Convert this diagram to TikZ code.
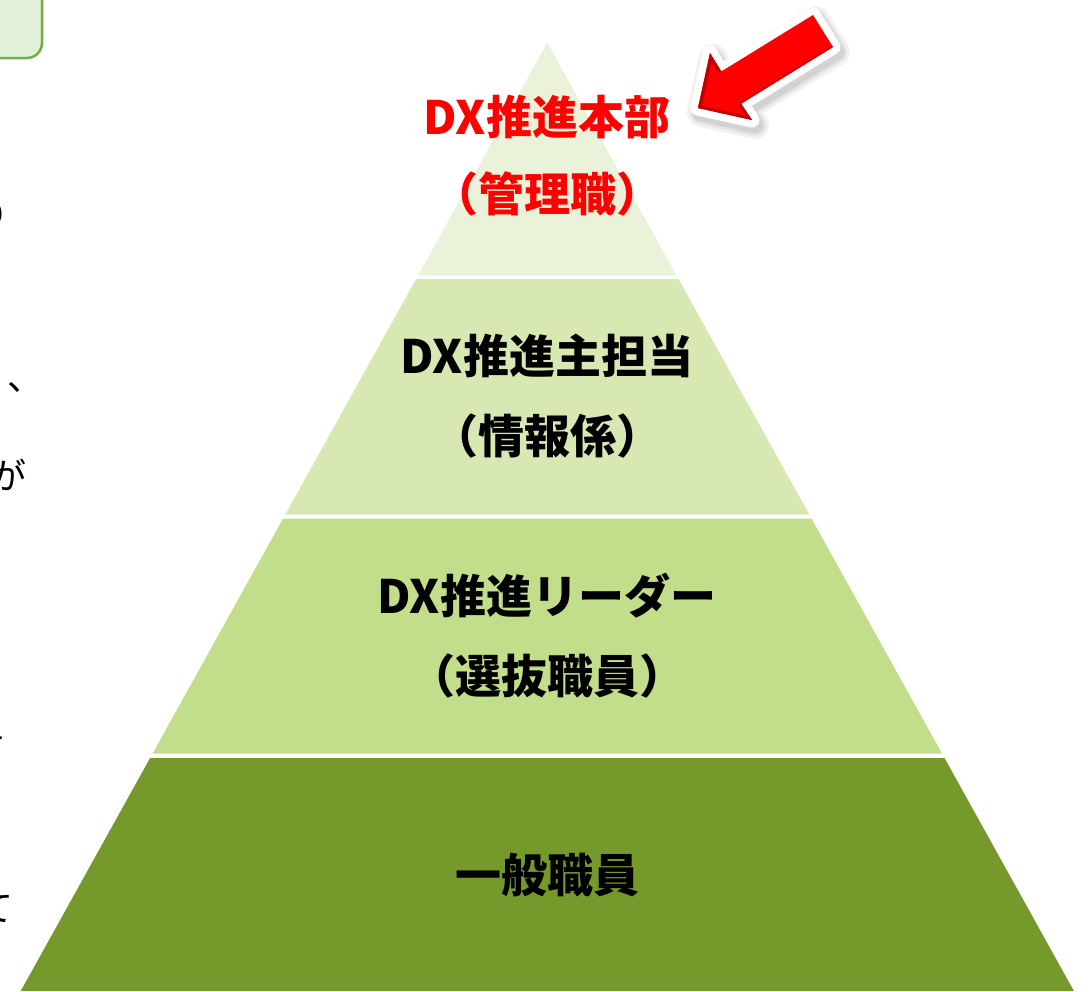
\documentclass[tikz,border=0pt]{standalone}
\usepackage{fontspec}
\newfontfamily\jp{Noto Sans CJK JP}
\definecolor{bandA}{HTML}{EAF3D9}
\definecolor{bandB}{HTML}{D8E8B3}
\definecolor{bandC}{HTML}{C3DE8B}
\definecolor{bandD}{HTML}{76992C}
\definecolor{boxfill}{HTML}{E2F0D9}
\definecolor{boxline}{HTML}{70AD47}
\definecolor{arrred}{HTML}{FF0000}
\definecolor{arrdark}{HTML}{C00000}
\tikzset{
  lbl/.style={font=\jp\bfseries\fontsize{46}{46}\selectfont, inner sep=0pt, text height=34pt, text depth=0pt},
  frag/.style={font=\jp\fontsize{36}{36}\selectfont, inner sep=0pt, text height=27pt, text depth=0pt},
}
\begin{document}
\begin{tikzpicture}[x=1pt,y=-1pt]
\useasboundingbox (0,0) rectangle (1091,991);
\clip (0,0) rectangle (1091,991);
% top-left box (partly outside)
\draw[fill=boxfill, draw=boxline, line width=2.5pt, rounded corners=15pt] (-30,-30) rectangle (42,58);
% left text fragments (cut off at the edge, as in the reference)
\node[frag, anchor=east] (f1) at (10,215) {り};
\node[frag, anchor=west] (f2) at (7,377) {、};
\node[frag, anchor=east] (f3) at (27,476) {が};
\node[frag, anchor=east] (f4) at (8,742) {き};
\node[frag, anchor=east] (f5) at (14,908) {て};
% pyramid bands
\fill[bandA] (547.3,42.7) -- (676.6,275.5) -- (418.0,275.5) -- cycle;
\fill[bandB] (416.1,279) -- (678.5,279) -- (809.3,514.5) -- (285.3,514.5) -- cycle;
\fill[bandC] (283.1,518.5) -- (811.5,518.5) -- (942.0,753.5) -- (152.6,753.5) -- cycle;
\fill[bandD] (150.1,758) -- (944.5,758) -- (1073.9,991) -- (20.7,991) -- cycle;
% labels
\node[lbl, text=arrred] (t1) at (547,117) {DX推進本部};
\node[lbl, text=arrred] (t2) at (547,194) {（管理職）};
\node[lbl] (b1) at (547,356) {DX推進主担当};
\node[lbl] (b2) at (547,436) {（情報係）};
\node[lbl] (c1) at (547,596) {DX推進リーダー};
\node[lbl] (c2) at (547,676) {（選抜職員）};
\node[lbl] (d1) at (547,875) {一般職員};
% arrow
\def\arrowpath{(698,108) -- (710,53) -- (721.3,71.5) -- (813,15) -- (833,47) -- (741.1,103.7) -- (752,120) -- cycle}
\begin{scope}[shift={(3,5)}]
\draw[black, opacity=0.05, line width=28pt, line join=round] \arrowpath;
\draw[black, opacity=0.06, line width=22pt, line join=round] \arrowpath;
\draw[black, opacity=0.08, line width=17pt, line join=round] \arrowpath;
\end{scope}
\draw[white, fill=white, line width=15pt, line join=round] \arrowpath;
\fill[arrred] \arrowpath;
\begin{scope}
\clip \arrowpath;
\draw[arrdark, line width=7pt, line join=miter] (698,108) -- (710,53) -- (721.3,71.5);
\draw[arrdark, line width=6pt, line join=miter] (741.1,103.7) -- (752,120) -- (698,108);
\draw[arrdark!70!arrred, line width=4pt] (741.1,103.7) -- (833,47);
\end{scope}
\end{tikzpicture}
\end{document}
